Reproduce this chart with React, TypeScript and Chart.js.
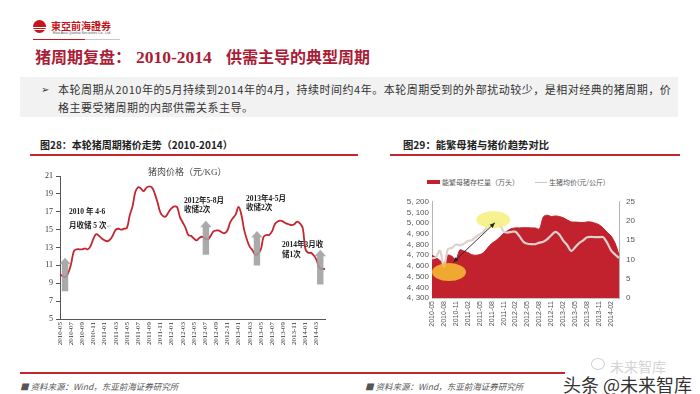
import React, { useEffect, useRef } from 'react';
import { Chart, registerables } from 'chart.js';

Chart.register(...registerables);

// ---------- DATA ----------
const months = [
  '2010-05', '2010-06', '2010-07', '2010-08', '2010-09', '2010-10', '2010-11', '2010-12',
  '2011-01', '2011-02', '2011-03', '2011-04', '2011-05', '2011-06', '2011-07', '2011-08', '2011-09', '2011-10', '2011-11', '2011-12',
  '2012-01', '2012-02', '2012-03', '2012-04', '2012-05', '2012-06', '2012-07', '2012-08', '2012-09', '2012-10', '2012-11', '2012-12',
  '2013-01', '2013-02', '2013-03', '2013-04', '2013-05', '2013-06', '2013-07', '2013-08', '2013-09', '2013-10', '2013-11', '2013-12',
  '2014-01', '2014-02', '2014-03', '2014-04',
];

// Pork price (元/KG), two readings per month (1st and 16th)
const porkPriceHalfMonthly = [
  10.0, 9.8, 9.7, 10.2, 11.2, 12.6, 12.8, 12.8, 12.8, 12.9, 12.8, 13.2,
  14.0, 14.5, 14.3, 14.0, 13.8, 13.7, 13.9, 14.4, 15.0, 15.1, 15.0, 15.1,
  15.2, 16.6, 17.6, 19.2, 19.75, 19.6, 19.3, 19.7, 19.85, 19.7, 19.0, 18.0,
  16.9, 16.5, 16.5, 17.0, 17.4, 17.6, 17.5, 16.4, 15.8, 15.2, 14.4, 14.3,
  14.0, 13.8, 14.1, 14.2, 14.0, 13.9, 14.3, 14.8, 14.9, 14.9, 14.7, 14.6,
  14.9, 15.8, 16.3, 16.7, 17.55, 16.7, 15.0, 13.9, 13.1, 12.7, 12.2, 12.3,
  12.8, 14.2, 14.4, 14.4, 14.8, 15.6, 15.9, 16.0, 15.9, 15.7, 15.6, 15.5,
  15.6, 15.9, 15.7, 15.2, 12.8, 12.4, 12.4, 12.1, 11.6, 10.7, 10.6, 10.6,
];
const halfDays = ['01', '16'];

// Storage purchase arrows: position (half-month index), from / to price
const storageArrowAt = [1.8, 52.3, 70.6, 93.3];
const storageArrowFrom = [8.1, 12.2, 11.0, 8.85];
const storageArrowTo = [11.85, 16.0, 14.85, 12.75];

// Right chart: sow inventory (万头) and hog price (元/公斤), monthly
const sowInventory = [
  4700, 4680, 4650, 4625, 4700, 4690, 4660, 4750, 4740, 4725, 4705, 4700,
  4706, 4725, 4770, 4810, 4835, 4868, 4905, 4930, 4950, 4956, 4956, 4958,
  4958, 4956, 4955, 4945, 5060, 5075, 5062, 5068, 5062, 5050, 5030, 5012,
  5010, 5008, 5006, 5012, 5010, 5000, 4985, 4955, 4915, 4880, 4815, 4705,
];
const hogPrice = [
  10.3, 10.6, 12.3, 8.0, 12.7, 13.0, 13.9, 13.7, 14.1, 14.8, 15.0, 15.9,
  16.6, 17.3, 18.6, 19.6, 19.9, 19.2, 17.3, 17.0, 17.2, 17.2, 16.0, 14.6,
  14.1, 14.0, 14.0, 14.4, 14.6, 15.3, 16.3, 17.2, 16.5, 14.9, 13.7, 12.2,
  13.2, 14.3, 15.0, 15.8, 15.9, 15.8, 15.8, 15.8, 14.4, 12.4, 11.3, 10.4,
];
// Highlight ellipses (month index, sow value) and linking arrow
const highlightAt = [4.27, 15.4];
const highlightValue = [4543, 5032];
const linkFrom = [5.35, 4635];
const linkTo = [15.8, 5003];

const halfLabels = months.flatMap((m) => halfDays.map((d) => `${m}-${d}`));

const CJK = '"Noto Sans CJK SC", "Noto Sans", sans-serif';
const SERIF = '"Liberation Serif", "Noto Sans CJK SC", serif';

function Txt(props: { x: number; y: number; size: number; children: any; style?: any }) {
  const { x, y, size, children, style } = props;
  return (
    <div
      style={{
        position: 'absolute',
        left: x,
        top: y - size * 0.6,
        fontSize: size,
        lineHeight: `${size * 1.2}px`,
        whiteSpace: 'nowrap',
        ...style,
      }}
    >
      {children}
    </div>
  );
}

export default function App() {
  const leftRef = useRef<HTMLCanvasElement>(null);
  const rightRef = useRef<HTMLCanvasElement>(null);

  useEffect(() => {
    const arrowPlugin = {
      id: 'storageArrows',
      afterDatasetsDraw(chart: any) {
        const { ctx } = chart;
        const x = chart.scales.x;
        const y = chart.scales.y;
        ctx.save();
        ctx.fillStyle = 'rgba(158,158,158,0.88)';
        storageArrowAt.forEach((at, i) => {
          const px = x.getPixelForValue(at);
          const yb = y.getPixelForValue(storageArrowFrom[i]);
          const yt = y.getPixelForValue(storageArrowTo[i]);
          const sw = 3.2, hw = 5.8, hh = 6.5;
          ctx.beginPath();
          ctx.moveTo(px - sw, yb);
          ctx.lineTo(px - sw, yt + hh);
          ctx.lineTo(px - hw, yt + hh);
          ctx.lineTo(px, yt);
          ctx.lineTo(px + hw, yt + hh);
          ctx.lineTo(px + sw, yt + hh);
          ctx.lineTo(px + sw, yb);
          ctx.closePath();
          ctx.fill();
        });
        ctx.restore();
      },
    };

    const left = new Chart(leftRef.current as HTMLCanvasElement, {
      type: 'line',
      data: {
        labels: halfLabels,
        datasets: [
          {
            data: porkPriceHalfMonthly,
            borderColor: '#c4262f',
            borderWidth: 1.8,
            pointRadius: 0,
            tension: 0.4,
            fill: false,
          },
        ],
      },
      options: {
        responsive: false,
        animation: false,
        events: [],
        layout: { padding: { top: 16, right: 15, left: 0, bottom: 0 } },
        plugins: { legend: { display: false }, tooltip: { enabled: false } },
        scales: {
          x: {
            grid: { display: false, drawTicks: false },
            border: { display: true, color: '#555', width: 1 },
            ticks: {
              autoSkip: false,
              minRotation: 90,
              maxRotation: 90,
              padding: 3,
              color: '#333',
              font: { family: SERIF, size: 7 },
              callback: (_v: any, i: number) => (i % 4 === 0 ? halfLabels[i].slice(0, 7) : ''),
            },
            afterFit: (s: any) => {
              s.height = 31;
            },
          },
          y: {
            min: 5,
            max: 21,
            ticks: { stepSize: 2, autoSkip: false, color: '#333', padding: 3, font: { family: SERIF, size: 8 } },
            grid: { display: true, drawOnChartArea: false, drawTicks: true, tickLength: 4, color: '#555' },
            border: { display: true, color: '#555', width: 1 },
            afterFit: (s: any) => {
              s.width = 30;
            },
          },
        },
      } as any,
      plugins: [arrowPlugin],
    });

    const highlightPlugin = {
      id: 'highlights',
      afterDatasetsDraw(chart: any) {
        const { ctx } = chart;
        const x = chart.scales.x;
        const y = chart.scales.y;
        ctx.save();
        const colors = ['rgba(244,184,52,0.9)', 'rgba(246,240,128,0.88)'];
        const radii = [
          [17, 9],
          [17, 8.5],
        ];
        highlightAt.forEach((at, i) => {
          ctx.fillStyle = colors[i];
          ctx.beginPath();
          ctx.ellipse(x.getPixelForValue(at), y.getPixelForValue(highlightValue[i]), radii[i][0], radii[i][1], 0, 0, Math.PI * 2);
          ctx.fill();
        });
        const x1 = x.getPixelForValue(linkFrom[0]);
        const y1 = y.getPixelForValue(linkFrom[1]);
        const x2 = x.getPixelForValue(linkTo[0]);
        const y2 = y.getPixelForValue(linkTo[1]);
        ctx.strokeStyle = '#222';
        ctx.fillStyle = '#222';
        ctx.lineWidth = 0.9;
        ctx.beginPath();
        ctx.moveTo(x1, y1);
        ctx.lineTo(x2, y2);
        ctx.stroke();
        const head = (fx: number, fy: number, tx: number, ty: number) => {
          const a = Math.atan2(ty - fy, tx - fx);
          const L = 5, W = 2.2;
          ctx.beginPath();
          ctx.moveTo(tx, ty);
          ctx.lineTo(tx - L * Math.cos(a) + W * Math.sin(a), ty - L * Math.sin(a) - W * Math.cos(a));
          ctx.lineTo(tx - L * Math.cos(a) - W * Math.sin(a), ty - L * Math.sin(a) + W * Math.cos(a));
          ctx.closePath();
          ctx.fill();
        };
        head(x1, y1, x2, y2);
        head(x2, y2, x1, y1);
        ctx.restore();
      },
    };

    const right = new Chart(rightRef.current as HTMLCanvasElement, {
      type: 'line',
      data: {
        labels: months,
        datasets: [
          {
            label: '能繁母猪存栏量（万头）',
            data: sowInventory,
            yAxisID: 'y',
            borderColor: '#c1222e',
            backgroundColor: '#c1222e',
            borderWidth: 1,
            pointRadius: 0,
            tension: 0.3,
            fill: 'start',
            order: 1,
          },
          {
            label: '生猪均价(元/公斤)',
            data: hogPrice,
            yAxisID: 'y1',
            borderColor: '#ddd1cf',
            borderWidth: 2.2,
            pointRadius: 0,
            tension: 0.3,
            fill: false,
            order: 0,
          },
        ],
      },
      options: {
        responsive: false,
        animation: false,
        events: [],
        layout: { padding: { top: 6, right: 51, left: 0, bottom: 0 } },
        plugins: { legend: { display: false }, tooltip: { enabled: false } },
        scales: {
          x: {
            grid: { display: false, drawTicks: false },
            border: { display: true, color: '#c8c8c8' },
            ticks: {
              autoSkip: false,
              minRotation: 90,
              maxRotation: 90,
              padding: 3,
              color: '#555',
              font: { family: '"Liberation Sans", sans-serif', size: 7 },
              callback: (_v: any, i: number) => (i % 3 === 0 ? months[i] : ''),
            },
            afterFit: (s: any) => {
              s.height = 47;
            },
          },
          y: {
            position: 'left',
            min: 4300,
            max: 5200,
            ticks: {
              stepSize: 100,
              autoSkip: false,
              color: '#555',
              padding: 3,
              font: { family: '"Liberation Sans", sans-serif', size: 8 },
              callback: (v: any) => `${Math.floor(v / 1000)}, ${String(v % 1000).padStart(3, '0')}`,
            },
            grid: { display: false, drawTicks: false },
            border: { display: true, color: '#b5b5b5' },
            afterFit: (s: any) => {
              s.width = 42;
            },
          },
          y1: {
            position: 'right',
            min: 0,
            max: 25,
            ticks: { stepSize: 5, autoSkip: false, color: '#555', padding: 7, font: { family: '"Liberation Sans", sans-serif', size: 8 } },
            grid: { display: false, drawTicks: false },
            border: { display: true, color: '#b5b5b5' },
            afterFit: (s: any) => {
              s.width = 20;
            },
          },
        },
      } as any,
      plugins: [highlightPlugin],
    });

    return () => {
      left.destroy();
      right.destroy();
    };
  }, []);

  const red = '#c0282d';
  const annot = { fontFamily: SERIF, fontWeight: 700, color: '#222' };

  return (
    <div
      style={{
        position: 'absolute',
        left: 0,
        top: 0,
        width: 700,
        height: 394,
        overflow: 'hidden',
        background: '#fff',
        fontFamily: CJK,
      }}
    >
      {/* Logo */}
      <div
        style={{
          position: 'absolute',
          left: 33,
          top: 20,
          width: 13,
          height: 13,
          borderRadius: '50%',
          background:
            'linear-gradient(to bottom, #c4161c 0%, #c4161c 52%, #fff 52%, #fff 60%, #c4161c 60%, #c4161c 72%, #fff 72%, #fff 80%, #c4161c 80%)',
        }}
      />
      <Txt x={51} y={26} size={10} style={{ color: '#c4161c', fontWeight: 700 }}>
        東亞前海證券
      </Txt>
      <Txt x={53} y={33.5} size={3.5} style={{ color: '#555', fontFamily: '"Liberation Sans", sans-serif' }}>
        East Asia Qianhai Securities Co., Ltd.
      </Txt>
      <div style={{ position: 'absolute', left: 33, top: 38.5, width: 52, height: 1.5, background: '#c4161c' }} />
      <div style={{ position: 'absolute', left: 85, top: 38.5, width: 35, height: 1.5, background: '#c8c8c8' }} />

      {/* Title */}
      <Txt x={35} y={57} size={16} style={{ color: '#a91d36', fontWeight: 700 }}>
        猪周期复盘：
      </Txt>
      <Txt x={136} y={57} size={17.5} style={{ color: '#a91d36', fontWeight: 700, fontFamily: SERIF }}>
        2010-2014
      </Txt>
      <Txt x={226} y={57} size={16} style={{ color: '#a91d36', fontWeight: 700 }}>
        供需主导的典型周期
      </Txt>

      {/* Summary box */}
      <div style={{ position: 'absolute', left: 20, top: 77, width: 658, height: 40, background: '#f2f2f2' }} />
      <Txt x={41} y={89.5} size={10} style={{ color: '#333', fontFamily: '"DejaVu Sans", sans-serif' }}>
        ➢
      </Txt>
      <Txt x={58} y={90} size={11} style={{ color: '#333', letterSpacing: 0.5 }}>
        本轮周期从2010年的5月持续到2014年的4月，持续时间约4年。本轮周期受到的外部扰动较少，是相对经典的猪周期，价
      </Txt>
      <Txt x={58} y={107.5} size={11} style={{ color: '#333', letterSpacing: 0.5 }}>
        格主要受猪周期的内部供需关系主导。
      </Txt>

      {/* Captions */}
      <Txt x={40} y={145} size={10} style={{ color: '#222', fontWeight: 700 }}>
        图28：本轮猪周期猪价走势（2010-2014）
      </Txt>
      <div style={{ position: 'absolute', left: 30, top: 154, width: 328, height: 1.5, background: red }} />
      <Txt x={403} y={145} size={10.3} style={{ color: '#222', fontWeight: 700 }}>
        图29：能繁母猪与猪价趋势对比
      </Txt>
      <div style={{ position: 'absolute', left: 390, top: 154, width: 290, height: 1.5, background: red }} />

      {/* Left chart */}
      <canvas ref={leftRef} width={310} height={190} style={{ position: 'absolute', left: 30, top: 160, width: 310, height: 190 }} />
      <Txt x={148} y={172.5} size={9} style={{ color: '#444', fontFamily: SERIF }}>
        猪肉价格（元/KG）
      </Txt>
      <Txt x={69} y={211.5} size={7.5} style={annot}>
        2010 年 4-6
      </Txt>
      <Txt x={69} y={225} size={7.5} style={annot}>
        月收储 5 次<span style={{ fontWeight: 400, color: '#999', fontSize: 5 }}>↵</span>
      </Txt>
      <Txt x={184} y={200} size={7.5} style={annot}>
        2012年5-8月
      </Txt>
      <Txt x={184} y={209} size={7.5} style={annot}>
        收储2次
      </Txt>
      <Txt x={246} y={198} size={7.5} style={annot}>
        2013年4-5月
      </Txt>
      <Txt x={246} y={207.5} size={7.5} style={annot}>
        收储2次
      </Txt>
      <Txt x={282} y={244} size={7.5} style={annot}>
        2014年3月收
      </Txt>
      <Txt x={282} y={254} size={7.5} style={annot}>
        储1次
      </Txt>

      {/* Right chart */}
      <canvas ref={rightRef} width={300} height={155} style={{ position: 'absolute', left: 390, top: 190, width: 300, height: 155 }} />
      <div style={{ position: 'absolute', left: 427, top: 180, width: 13, height: 4, background: '#c1222e' }} />
      <Txt x={442} y={182} size={7} style={{ color: '#555' }}>
        能繁母猪存栏量（万头）
      </Txt>
      <div style={{ position: 'absolute', left: 535, top: 181.5, width: 12, height: 1.3, background: '#c8c8c8' }} />
      <Txt x={549} y={182} size={7} style={{ color: '#555' }}>
        生猪均价(元/公斤)
      </Txt>

      {/* Footer */}
      <div style={{ position: 'absolute', left: 20, top: 371.5, width: 545, height: 2, background: red }} />
      <Txt x={20} y={386.5} size={8.5} style={{ color: '#555', fontStyle: 'italic' }}>
        ■ 资料来源：Wind，东亚前海证券研究所
      </Txt>
      <Txt x={365} y={386.5} size={8.5} style={{ color: '#555', fontStyle: 'italic' }}>
        ■ 资料来源：Wind，东亚前海证券研究所
      </Txt>
      <div
        style={{
          position: 'absolute',
          left: 591,
          top: 358,
          width: 12,
          height: 10,
          borderRadius: '50%',
          border: '1px solid #d0d0d0',
        }}
      />
      <Txt x={610} y={366} size={14} style={{ color: '#d4d4d4' }}>
        未来智库
      </Txt>
      <Txt x={563} y={385} size={18} style={{ color: '#333' }}>
        头条 @未来智库
      </Txt>
    </div>
  );
}
